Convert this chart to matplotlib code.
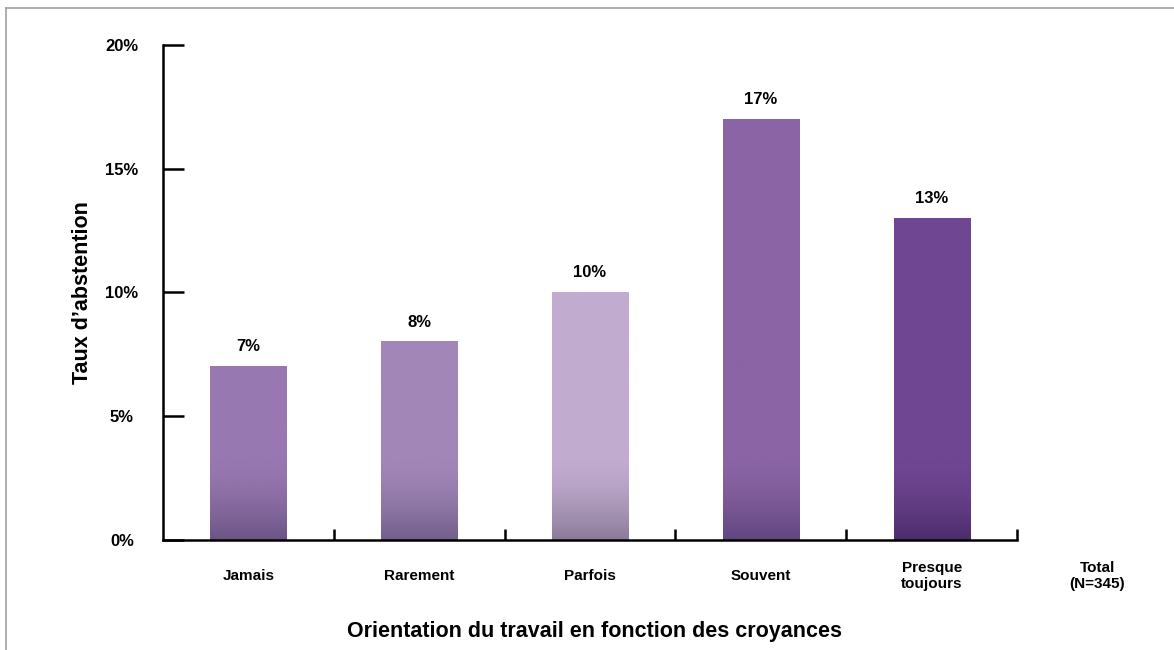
import matplotlib.pyplot as plt
import matplotlib.colors as mcolors
import numpy as np

plt.rcParams['font.family'] = ['Liberation Sans', 'DejaVu Sans']
plt.rcParams['font.weight'] = 'bold'

categories = ["Jamais", "Rarement", "Parfois", "Souvent", "Presque\ntoujours"]
extra_label = "Total\n(N=345)"
rates = [7, 8, 10, 17, 13]
value_labels = ["7%", "8%", "10%", "17%", "13%"]
y_ticks = [0, 5, 10, 15, 20]
y_tick_labels = ["0%", "5%", "10%", "15%", "20%"]

bar_colors = ["#9878b0", "#a286b8", "#c1acd0", "#8a64a4", "#6f4692"]
base_colors = ["#6b5585", "#725f8a", "#8a7b98", "#614680", "#4c2d6c"]

fig = plt.figure(figsize=(11.74, 6.5), dpi=100)

# frame line along the top and left of the figure
fig.add_artist(plt.Line2D([0.005, 1.0], [0.988, 0.988], color="#a0a0a0", lw=1.2))
fig.add_artist(plt.Line2D([0.005, 0.005], [0.0, 0.988], color="#a0a0a0", lw=1.2))

ax = fig.add_axes([0.1388, 0.1692, 0.7275, 0.7616])

x = np.arange(len(categories))
bar_width = 0.445
bars = ax.bar(x, rates, width=bar_width, color="none", zorder=2)

# each bar is filled with an image: flat colour, darker toward the bottom
grad_height = 3.3
for bar, v, top_c, bot_c in zip(bars, rates, bar_colors, base_colors):
    cmap = mcolors.LinearSegmentedColormap.from_list("shade", [top_c, bot_c])
    ys = np.linspace(0, v, 400)
    shade = np.clip(1 - ys / grad_height, 0, 1) ** 1.6
    x0 = bar.get_x()
    im = ax.imshow(shade.reshape(-1, 1), cmap=cmap, vmin=0, vmax=1,
                   aspect="auto", extent=(x0, x0 + bar.get_width(), 0, v),
                   origin="lower", interpolation="bilinear", zorder=3)

for xi, v, lab in zip(x, rates, value_labels):
    ax.text(xi, v + 0.5, lab, ha="center", va="bottom",
            fontsize=12, fontweight="bold")

ax.set_xlim(-0.5, len(categories) - 0.5)
ax.set_ylim(0, 20)

ax.set_yticks(y_ticks)
ax.set_yticklabels(y_tick_labels, fontsize=12, fontweight="bold", ha="center")
ax.set_xticks(np.arange(len(categories)) + 0.5)
ax.set_xticklabels([])

for xi, lab in enumerate(categories):
    ax.text(xi, -1.45, lab, ha="center", va="center", fontsize=11,
            fontweight="bold", linespacing=1.15)
ax.text(len(categories) - 0.03, -1.45, extra_label, ha="center", va="center",
        fontsize=11, fontweight="bold", linespacing=1.15, clip_on=False)

ax.tick_params(axis="y", direction="in", length=15, width=1.8, pad=29.5)
ax.tick_params(axis="x", direction="in", length=8, width=1.8)

for side in ["top", "right"]:
    ax.spines[side].set_visible(False)
for side in ["left", "bottom"]:
    ax.spines[side].set_linewidth(1.8)
    ax.spines[side].set_zorder(4)

ax.set_ylabel("Taux d\u2019abstention", fontsize=15.5, fontweight="bold", labelpad=9)
fig.text(0.506, 0.028, "Orientation du travail en fonction des croyances",
         ha="center", va="center", fontsize=15.5, fontweight="bold")

fig.savefig("out.png", dpi=100)
